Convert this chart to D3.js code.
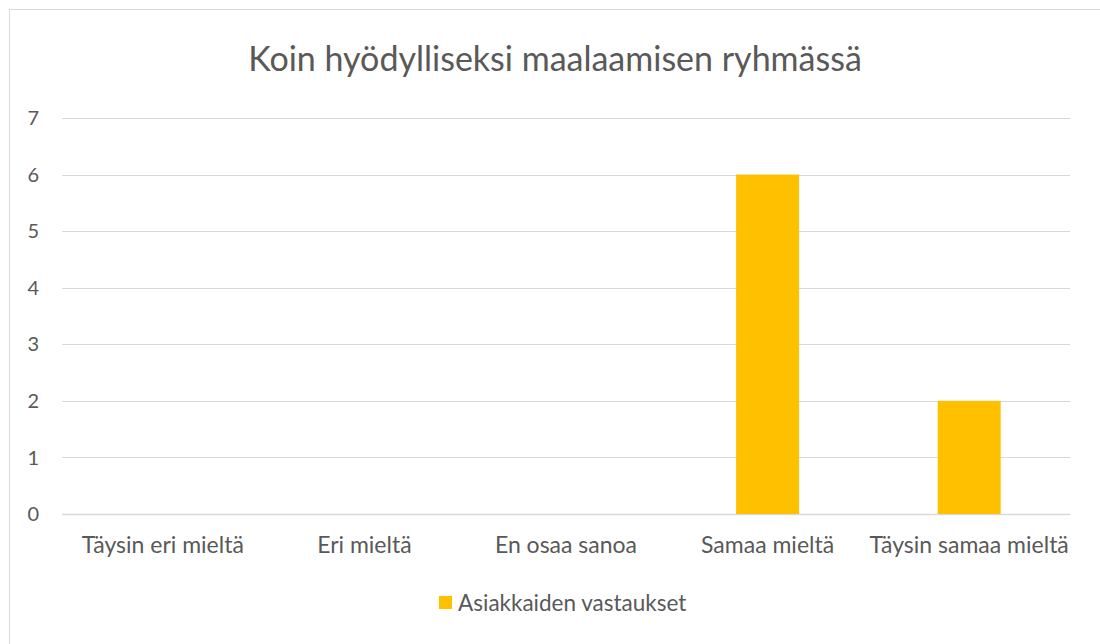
<!DOCTYPE html>
<html>
<head>
<meta charset="utf-8">
<script src="https://cdn.jsdelivr.net/npm/d3@7"></script>
<style>
  body { margin: 0; background: #fff; }
  svg { display: block; font-family: Lato, "Open Sans", sans-serif; }
</style>
</head>
<body>
<svg width="1100" height="644"></svg>
<script>
// chart data
const categories = ["Täysin eri mieltä", "Eri mieltä", "En osaa sanoa", "Samaa mieltä", "Täysin samaa mieltä"];
const values = [0, 0, 0, 6, 2];
const yTicks = [0, 1, 2, 3, 4, 5, 6, 7];
const seriesName = "Asiakkaiden vastaukset";
const chartTitle = "Koin hyödylliseksi maalaamisen ryhmässä";

const svg = d3.select("svg");
const textColor = "#595959";
const barColor = "#FFC000";

// chart frame (runs off the right and bottom edge)
svg.append("rect")
    .attr("x", 9.5).attr("y", 9.5)
    .attr("width", 1100).attr("height", 700)
    .attr("fill", "#fff")
    .attr("stroke", "#d9d9d9")
    .attr("stroke-width", 1);

const plot = { left: 62, right: 1070, top: 118, bottom: 514 };

const x = d3.scaleBand()
    .domain(categories)
    .range([plot.left, plot.right])
    .paddingInner(0.6875)
    .paddingOuter(0.34375);

const y = d3.scaleLinear()
    .domain([0, 7])
    .range([plot.bottom, plot.top]);

// gridlines
svg.append("g")
    .selectAll("line")
    .data(yTicks)
    .join("line")
    .attr("x1", plot.left).attr("x2", plot.right)
    .attr("y1", d => Math.round(y(d)) + 0.5)
    .attr("y2", d => Math.round(y(d)) + 0.5)
    .attr("stroke", "#d9d9d9")
    .attr("stroke-width", d => d === 0 ? 1.5 : 1);

// y tick labels
svg.append("g")
    .selectAll("text")
    .data(yTicks)
    .join("text")
    .attr("x", 39)
    .attr("y", d => y(d))
    .attr("dy", "0.36em")
    .attr("text-anchor", "end")
    .attr("fill", textColor)
    .style("font-size", "20px")
    .text(d => d);

// bars
svg.append("g")
    .selectAll("rect")
    .data(values)
    .join("rect")
    .attr("x", (d, i) => x(categories[i]))
    .attr("width", x.bandwidth())
    .attr("y", d => y(d))
    .attr("height", d => y(0) - y(d))
    .attr("fill", barColor);

// category labels
svg.append("g")
    .selectAll("text")
    .data(categories)
    .join("text")
    .attr("x", d => x(d) + x.bandwidth() / 2)
    .attr("y", 553)
    .attr("text-anchor", "middle")
    .attr("fill", textColor)
    .style("font-size", "23px")
    .text(d => d);

// title
svg.append("text")
    .attr("x", 555)
    .attr("y", 71)
    .attr("text-anchor", "middle")
    .attr("fill", textColor)
    .style("font-size", "34px")
    .text(chartTitle);

// legend
const legend = svg.append("g");
legend.append("rect")
    .attr("x", 439).attr("y", 596)
    .attr("width", 13).attr("height", 13)
    .attr("fill", barColor);
legend.append("text")
    .attr("x", 458)
    .attr("y", 611)
    .attr("fill", textColor)
    .style("font-size", "22.5px")
    .text(seriesName);
</script>
</body>
</html>
